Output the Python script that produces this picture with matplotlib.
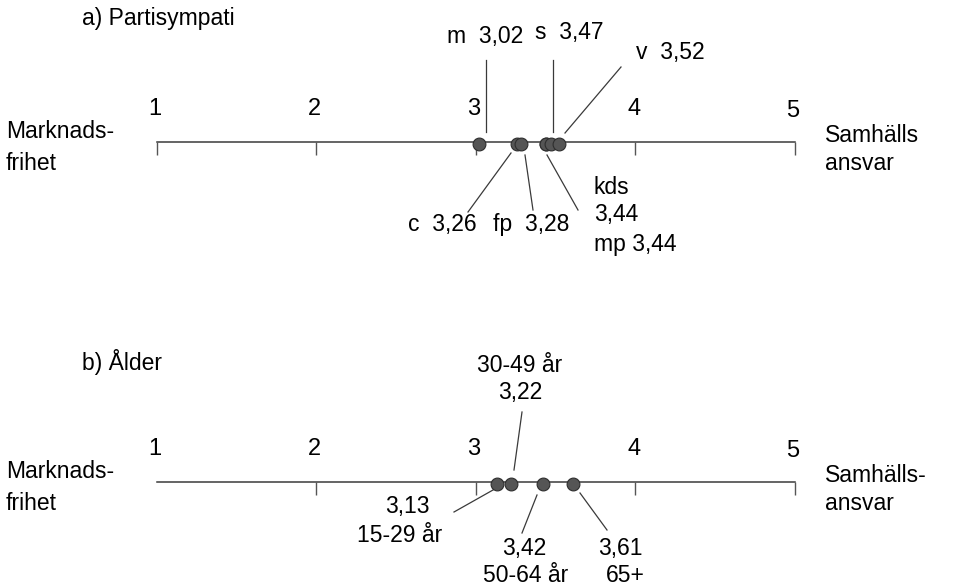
import matplotlib
matplotlib.use('Agg')
import matplotlib.pyplot as plt

plt.rcParams['font.family'] = ['Liberation Sans', 'DejaVu Sans']

# skala 1-5
scale = [1, 2, 3, 4, 5]

# a) Partisympati
parti = ['m', 'c', 'fp', 'kds', 'mp', 's', 'v']
parti_val = [3.02, 3.26, 3.28, 3.44, 3.44, 3.47, 3.52]

# b) Ålder
alder = ['15-29 år', '30-49 år', '50-64 år', '65+']
alder_val = [3.13, 3.22, 3.42, 3.61]

LINE_COL = '#3a3a3a'
DOT_COL = '#555555'
FS = 16.5


def px(x):
    """pixel-x i bilden -> skalvärde (1 = 157 px, 5 = 795 px)"""
    return 1 + (x - 157) / 159.5


def fmt(v):
    return f'{v:.2f}'.replace('.', ',')


def draw_scale(ax, y, left, right, tick1=True):
    ax.plot([scale[0], scale[-1]], [y, y], color=LINE_COL, lw=1.1, zorder=1)
    ticks = scale if tick1 else scale[1:]
    ax.vlines(ticks, y, y + 13, color='#555555', lw=1.0, zorder=1)
    for s in scale:
        yy = y - 33 if s < 5 else y - 31
        ax.text(s - 0.012, yy, str(s), ha='center', va='center', fontsize=17)
    ax.text(px(6), y - 10, left[0], ha='left', va='center', fontsize=FS)
    ax.text(px(6), y + 21, left[1], ha='left', va='center', fontsize=FS)
    ax.text(px(825), y - 7, right[0], ha='left', va='center', fontsize=FS)
    ax.text(px(825), y + 21, right[1], ha='left', va='center', fontsize=FS)


def leader(ax, x0, y0, x1, y1):
    ax.plot([px(x0), px(x1)], [y0, y1], color=LINE_COL, lw=0.9, zorder=1)


fig = plt.figure(figsize=(9.54, 5.88), dpi=100)
ax = fig.add_axes([0, 0, 1, 1])
ax.set_xlim(px(0), px(954))
ax.set_ylim(588, 0)
ax.axis('off')

# ---- a) Partisympati ----
Y1 = 142
ax.text(px(82), 19, 'a) Partisympati', ha='left', va='center', fontsize=FS)
draw_scale(ax, Y1, ('Marknads-', 'frihet'), ('Samhälls', 'ansvar'))
ax.scatter(parti_val, [Y1 + 2] * len(parti_val), s=85, color=DOT_COL,
           edgecolors='#2e2e2e', linewidths=0.8, zorder=3)

lab = dict(zip(parti, parti_val))
ax.text(px(485), 37, f"m  {fmt(lab['m'])}", ha='center', va='center', fontsize=FS)
leader(ax, 486, 60, 486, 132)
ax.text(px(569), 32, f"s  {fmt(lab['s'])}", ha='center', va='center', fontsize=FS)
leader(ax, 553, 60, 553, 132)
ax.text(px(670), 53, f"v  {fmt(lab['v'])}", ha='center', va='center', fontsize=FS)
leader(ax, 621, 67, 565, 133)
ax.text(px(442), 225, f"c  {fmt(lab['c'])}", ha='center', va='center', fontsize=FS)
leader(ax, 511, 153, 468, 212)
ax.text(px(531), 225, f"fp  {fmt(lab['fp'])}", ha='center', va='center', fontsize=FS)
leader(ax, 525, 155, 533, 210)
ax.text(px(594), 187, 'kds', ha='left', va='center', fontsize=FS)
ax.text(px(594), 215, fmt(lab['kds']), ha='left', va='center', fontsize=FS)
ax.text(px(594), 244, f"mp {fmt(lab['mp'])}", ha='left', va='center', fontsize=FS)
leader(ax, 547, 155, 578, 210)

# ---- b) Ålder ----
Y2 = 482
ax.text(px(82), 362, 'b) Ålder', ha='left', va='center', fontsize=FS)
draw_scale(ax, Y2, ('Marknads-', 'frihet'), ('Samhälls-', 'ansvar'), tick1=False)
ax.scatter(alder_val, [Y2 + 2] * len(alder_val), s=85, color=DOT_COL,
           edgecolors='#2e2e2e', linewidths=0.8, zorder=3)

ax.text(px(407), 507, fmt(alder_val[0]), ha='center', va='center', fontsize=FS)
ax.text(px(400), 535, alder[0], ha='center', va='center', fontsize=FS)
leader(ax, 493, 490, 454, 512)
ax.text(px(520), 366, alder[1], ha='center', va='center', fontsize=FS)
ax.text(px(520), 393, fmt(alder_val[1]), ha='center', va='center', fontsize=FS)
leader(ax, 522, 412, 514, 470)
ax.text(px(524), 548, fmt(alder_val[2]), ha='center', va='center', fontsize=FS)
ax.text(px(526), 576, alder[2], ha='center', va='center', fontsize=FS)
leader(ax, 537, 495, 522, 533)
ax.text(px(620), 548, fmt(alder_val[3]), ha='center', va='center', fontsize=FS)
ax.text(px(625), 576, alder[3], ha='center', va='center', fontsize=FS)
leader(ax, 580, 493, 607, 530)

fig.savefig('out.png', dpi=100, facecolor='white')
